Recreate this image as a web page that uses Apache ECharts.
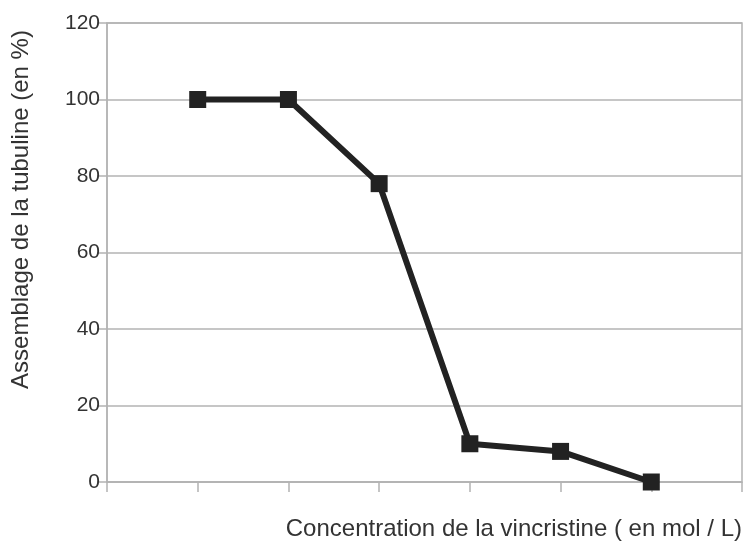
<!DOCTYPE html>
<html><head><meta charset="utf-8">
<script src="https://cdn.jsdelivr.net/npm/echarts@6/dist/echarts.min.js"></script>
<style>html,body{margin:0;padding:0;background:#fff}#c{width:748px;height:545px}</style>
</head><body><div id="c"></div>
<script>
var categories = ['', 'c1', 'c2', 'c3', 'c4', 'c5', 'c6', ''];
var assemblage = [null, 100, 100, 78, 10, 8, 0, null];
var yTicks = {min: 0, max: 120, interval: 20};
var xTitle = 'Concentration de la vincristine ( en mol / L)';
var yTitle = 'Assemblage de la tubuline (en %)';

var font = '"Liberation Sans", Arial, sans-serif';
var chart = echarts.init(document.getElementById('c'));
chart.setOption({
  animation: false,
  grid: {left: 107, right: 6, top: 23, bottom: 63, show: true, borderColor: '#b3b3b3', borderWidth: 1.5},
  xAxis: {
    type: 'category', data: categories, boundaryGap: false,
    axisLine: {lineStyle: {color: '#b3b3b3', width: 1.5}},
    axisTick: {show: true, length: 10, inside: false, lineStyle: {color: '#b3b3b3', width: 1.5}},
    axisLabel: {show: false},
    splitLine: {show: false},
    name: xTitle, nameLocation: 'end', nameGap: 0,
    nameTextStyle: {fontFamily: font, fontSize: 24, color: '#333', align: 'right', verticalAlign: 'top', padding: [35, 0, 0, 0]}
  },
  yAxis: {
    type: 'value', min: yTicks.min, max: yTicks.max, interval: yTicks.interval,
    axisLine: {show: true, lineStyle: {color: '#b3b3b3', width: 1.5}},
    axisTick: {show: true, length: 10, lineStyle: {color: '#b3b3b3', width: 1.5}},
    axisLabel: {fontFamily: font, fontSize: 21, color: '#333', margin: 7},
    splitLine: {show: true, lineStyle: {color: '#b3b3b3', width: 1.5}},
    name: yTitle, nameLocation: 'middle', nameGap: 74, nameRotate: 90,
    nameTextStyle: {fontFamily: font, fontSize: 24, color: '#333', padding: [0, 0, 0, 86]}
  },
  series: [{
    type: 'line', data: assemblage, connectNulls: false,
    symbol: 'rect', symbolSize: 17,
    lineStyle: {color: '#222', width: 6},
    itemStyle: {color: '#222', borderWidth: 0}
  }]
});
</script></body></html>
